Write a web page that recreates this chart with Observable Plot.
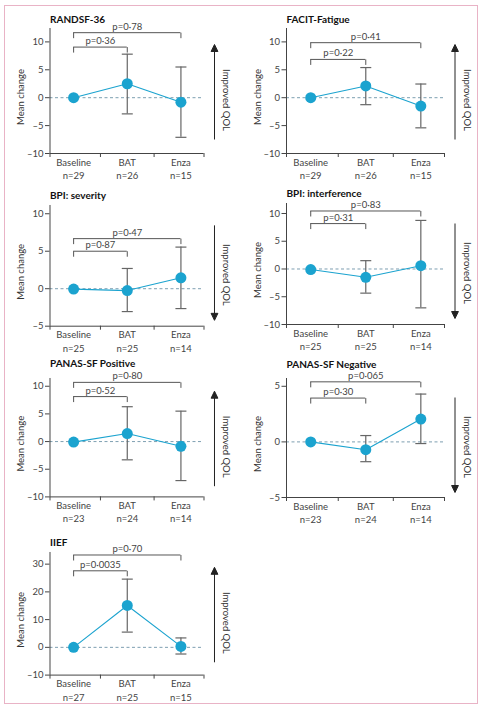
<!DOCTYPE html>
<html><head><meta charset="utf-8">
<script src="https://cdn.jsdelivr.net/npm/d3@7"></script>
<script src="https://cdn.jsdelivr.net/npm/@observablehq/plot@0.6"></script>
<style>
body{margin:0;background:#fff;}
#wrap{position:relative;width:482px;height:710px;overflow:hidden;background:#fff;}
#border{position:absolute;left:4px;top:5px;width:472px;height:697px;border:1px solid #e9b3c6;}
.panel{position:absolute;}
</style></head><body><div id="wrap"><div id="border"></div></div>
<script>
// ---------- data ----------
const groups = ["Baseline", "BAT", "Enza"];
const titles = ["RANDSF-36", "FACIT-Fatigue", "BPI: severity", "BPI: interference", "PANAS-SF Positive", "PANAS-SF Negative", "IIEF"];
const nCounts = [[29, 26, 15], [29, 26, 15], [25, 25, 14], [25, 25, 14], [23, 24, 14], [23, 24, 14], [27, 25, 15]];
const means = [[0, 2.5, -0.8], [0, 2.1, -1.5], [-0.05, -0.25, 1.45], [-0.1, -1.5, 0.6], [-0.1, 1.45, -0.85], [0, -0.7, 2.05], [0, 15.1, 0.35]];
const lower = [[null, -2.9, -7.1], [null, -1.25, -5.4], [null, -3.05, -2.65], [null, -4.35, -7.0], [null, -3.3, -7.05], [null, -1.78, -0.15], [null, 5.5, -2.4]];
const upper = [[null, 7.8, 5.5], [null, 5.4, 2.45], [null, 2.7, 5.55], [null, 1.5, 8.75], [null, 6.3, 5.5], [null, 0.57, 4.3], [null, 24.6, 3.4]];
const pShort = ["0·36", "0·22", "0·87", "0·31", "0·52", "0·30", "0·0035"];
const pLong = ["0·78", "0·41", "0·47", "0·83", "0·80", "0·065", "0·70"];
const improvedUp = [true, true, false, false, true, false, true];
const yTicks = [[-10, -5, 0, 5, 10], [-10, -5, 0, 5, 10], [-5, 0, 5, 10], [-10, -5, 0, 5, 10], [-10, -5, 0, 5, 10], [-5, 0, 5], [-10, 0, 10, 20, 30]];
const yDomains = [[-10, 12.4], [-10, 12.4], [-5, 11.1], [-10, 11.8], [-10, 11.4], [-5, 5.7], [-10, 34.2]];
const levelShort = [9.07, 6.86, 5.0, 8.18, 8.13, 3.94, 27.6];
const levelLong = [11.65, 9.86, 6.68, 10.45, 10.7, 5.4, 33.3];

// ---------- layout ----------
const frameTop = [28, 28, 205, 203.3, 378.3, 377.7, 551.7];
const frameBottom = [153, 153, 325.7, 324.3, 496.7, 496.7, 674.3];
const titleY = [19, 19, 195, 194, 363.5, 363.5, 541.7];
const cols = [{left: 0, width: 238, ml: 49.5, mr: 34.5}, {left: 236, width: 244, ml: 50, mr: 36}];
const xDomain = [-0.44, 2.43];
const boundaries = [-0.44, 0.5, 1.5, 2.43];
const FONT = "Lato, 'Open Sans', sans-serif";
const BLUE = "#1ba3cf";
const FS = 9;

const capSymbol = {draw(ctx, size) { const w = Math.sqrt(size / Math.PI); ctx.moveTo(-w, 0); ctx.lineTo(w, 0); }};
const legSymbol = {draw(ctx, size) { const h = Math.sqrt(size / Math.PI); ctx.moveTo(0, 0); ctx.lineTo(0, h); }};
const arrowUp = {draw(ctx, size) { const h = Math.sqrt(size / Math.PI); ctx.moveTo(0, h); ctx.lineTo(0, -h + 6); ctx.moveTo(0, -h); ctx.lineTo(3.4, -h + 7); ctx.lineTo(-3.4, -h + 7); ctx.closePath(); }};
const arrowDown = {draw(ctx, size) { const h = Math.sqrt(size / Math.PI); ctx.moveTo(0, -h); ctx.lineTo(0, h - 6); ctx.moveTo(0, h); ctx.lineTo(3.4, h - 7); ctx.lineTo(-3.4, h - 7); ctx.closePath(); }};
const fmt = d => d < 0 ? "–" + Math.abs(d) : String(d);

function panel(i) {
  const C = cols[i % 2];
  const mt = 26, mb = 34;
  const rows = groups.map((g, j) => ({x: j, g, mean: means[i][j], lo: lower[i][j], hi: upper[i][j], n: nCounts[i][j]}));
  const bars = rows.filter(d => d.lo != null);
  const caps = bars.flatMap(d => [{x: d.x, y: d.lo}, {x: d.x, y: d.hi}]);
  const brackets = [{x1: 0, x2: 1, y: levelShort[i], p: pShort[i]}, {x1: 0, x2: 2, y: levelLong[i], p: pLong[i]}];
  const legs = brackets.flatMap(b => [{x: b.x1, y: b.y}, {x: b.x2, y: b.y}]);
  const up = improvedUp[i];
  const chart = Plot.plot({
    width: C.width,
    height: mt + (frameBottom[i] - frameTop[i]) + mb,
    marginTop: mt, marginBottom: mb, marginLeft: C.ml, marginRight: C.mr,
    style: {fontFamily: FONT, fontSize: FS + "px", color: "#444", background: "transparent", overflow: "visible"},
    x: {domain: xDomain},
    y: {domain: yDomains[i]},
    marks: [
      Plot.ruleY([0], {stroke: "#7d9fb1", strokeDasharray: "3,2.5", strokeWidth: 1}),
      Plot.ruleX([xDomain[0]], {stroke: "#444", strokeWidth: 1}),
      Plot.ruleY([yDomains[i][0]], {stroke: "#444", strokeWidth: 1}),
      Plot.axisY({ticks: yTicks[i], tickFormat: fmt, tickSize: 4.5, tickPadding: 2, label: null, fill: "#444", stroke: "#444", fontSize: FS + 0.5}),
      Plot.axisX({ticks: boundaries, tickSize: 4, tickFormat: () => "", label: null, stroke: "#444"}),
      Plot.text(rows, {x: "x", text: d => d.g + "\nn=" + d.n, frameAnchor: "bottom", lineAnchor: "top", dy: 2.5, lineHeight: 1.42, fill: "#444", fontSize: FS + 0.5}),
      Plot.text([titles[i]], {text: d => d, frameAnchor: "top-left", lineAnchor: "middle", textAnchor: "start", dy: titleY[i] - frameTop[i], fontWeight: "bold", fill: "#111", fontSize: 10}),
      Plot.text(["Mean change"], {text: d => d, frameAnchor: "left", textAnchor: "middle", lineAnchor: "middle", dx: -29, dy: 6, rotate: -90, fill: "#333", fontSize: FS + 0.5}),
      Plot.ruleY(brackets, {y: "y", x1: "x1", x2: "x2", stroke: "#555", strokeWidth: 1}),
      Plot.dot(legs, {x: "x", y: "y", symbol: legSymbol, r: 5.5, stroke: "#555", fill: "none", strokeWidth: 1}),
      Plot.text(brackets, {x: d => (d.x1 + d.x2) / 2, y: "y", text: d => "p=" + d.p, dy: -6, fill: "#444", fontSize: FS + 0.5}),
      Plot.ruleX(bars, {x: "x", y1: "lo", y2: "hi", stroke: "#666", strokeWidth: 1.2}),
      Plot.dot(caps, {x: "x", y: "y", symbol: capSymbol, r: 5.5, stroke: "#666", fill: "none", strokeWidth: 1.2}),
      Plot.line(rows, {x: "x", y: "mean", stroke: BLUE, strokeWidth: 1.1}),
      Plot.dot(rows, {x: "x", y: "mean", r: 5.5, fill: BLUE, stroke: "none"}),
      Plot.dot([0], {frameAnchor: "right", dx: 10.5, dy: up ? 1 : 7, symbol: up ? arrowUp : arrowDown, r: 47.5, fill: "#222", stroke: "#222", strokeWidth: 1}),
      Plot.text(["Improved QOL"], {text: d => d, frameAnchor: "right", textAnchor: "middle", lineAnchor: "middle", dx: 22.5, dy: 9, rotate: 90, fill: "#333", fontSize: FS + 0.5})
    ]
  });
  chart.classList.add("panel");
  chart.style.left = C.left + "px";
  chart.style.top = (frameTop[i] - mt) + "px";
  chart.style.position = "absolute";
  document.getElementById("wrap").appendChild(chart);
}
for (let i = 0; i < titles.length; i++) panel(i);
</script>
</body></html>
